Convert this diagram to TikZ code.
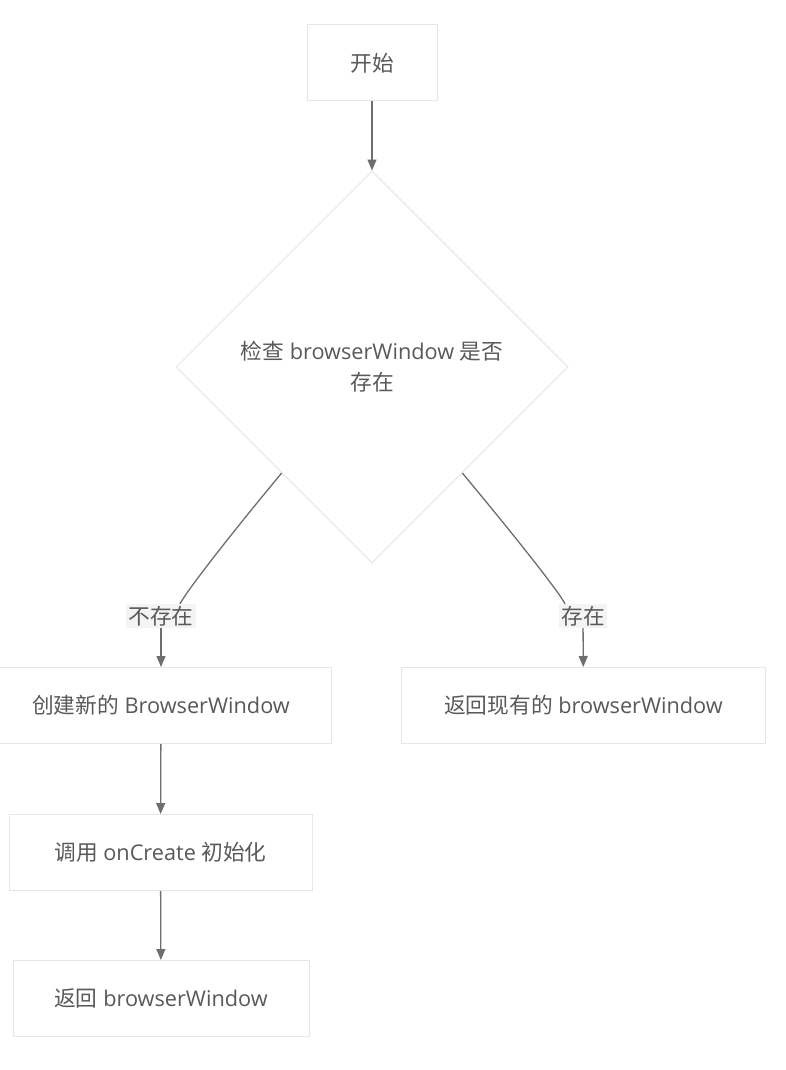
\documentclass[tikz,border=0pt]{standalone}
\usepackage{fontspec}
\setmainfont{Open Sans}
\newfontfamily\cjk{Noto Sans CJK SC}
\usetikzlibrary{shapes.geometric, arrows.meta, calc}
\definecolor{txtgray}{HTML}{595959}
\definecolor{boxgray}{HTML}{E6E6E6}
\definecolor{arrgray}{HTML}{6E6E6E}
\definecolor{lblbg}{HTML}{F4F4F6}
\newcommand{\fsz}{\fontsize{21.7}{31}\selectfont}
\tikzset{>=latex}

\begin{document}
\begin{tikzpicture}[x=1pt,y=-1pt,
  box/.style={draw=boxgray, line width=1pt, fill=white, text=txtgray, minimum height=76pt, align=center, font=\fsz},
  chkbox/.style={diamond, draw=boxgray, line width=1pt, minimum width=392pt, minimum height=392pt, inner sep=0pt, aspect=1, text=txtgray, align=center, font=\fsz},
  lbl/.style={fill=lblbg, text=txtgray, font=\fsz, inner sep=2pt},
  link/.style={draw=arrgray, line width=1.3pt},
  flow/.style={link, -{Triangle[length=11pt,width=9pt]}}]
\useasboundingbox (0,0) rectangle (786,1070);
% nodes
\node[box, minimum width=130pt] (start) at (372,63) {\cjk 开始};
\node[chkbox] (chk) at (372,367) {{\cjk 检查} browserWindow {\cjk 是否}\\{\cjk 存在}};
\node[box, minimum width=340pt] (create) at (161,705.5) {{\cjk 创建新的} BrowserWindow};
\node[box, minimum width=364pt] (retold) at (583.5,705.5) {{\cjk 返回现有的} browserWindow};
\node[box, minimum width=303pt] (init) at (160.5,852.5) {{\cjk 调用} onCreate {\cjk 初始化}};
\node[box, minimum width=296pt] (retnew) at (161,998.5) {{\cjk 返回} browserWindow};
\node[lbl] (no) at (161,616) {\cjk 不存在};
\node[lbl] (yes) at (583,616) {\cjk 存在};
% connectors
\coordinate (nofrom) at ($(chk.west)!0.54!(chk.south)$);
\coordinate (yesfrom) at ($(chk.east)!0.54!(chk.south)$);
\draw[flow] (start) -- (chk);
\draw[link] (nofrom) .. controls +(-45,54) and +(8,-15) .. ([xshift=19pt]no.north);
\draw[link] (yesfrom) .. controls +(45,54) and +(-8,-15) .. ([xshift=-18pt]yes.north);
\draw[flow] (no) -- (create);
\draw[flow] (yes) -- (retold);
\draw[flow] (create) -- (init);
\draw[flow] (init) -- (retnew);
\end{tikzpicture}
\end{document}
